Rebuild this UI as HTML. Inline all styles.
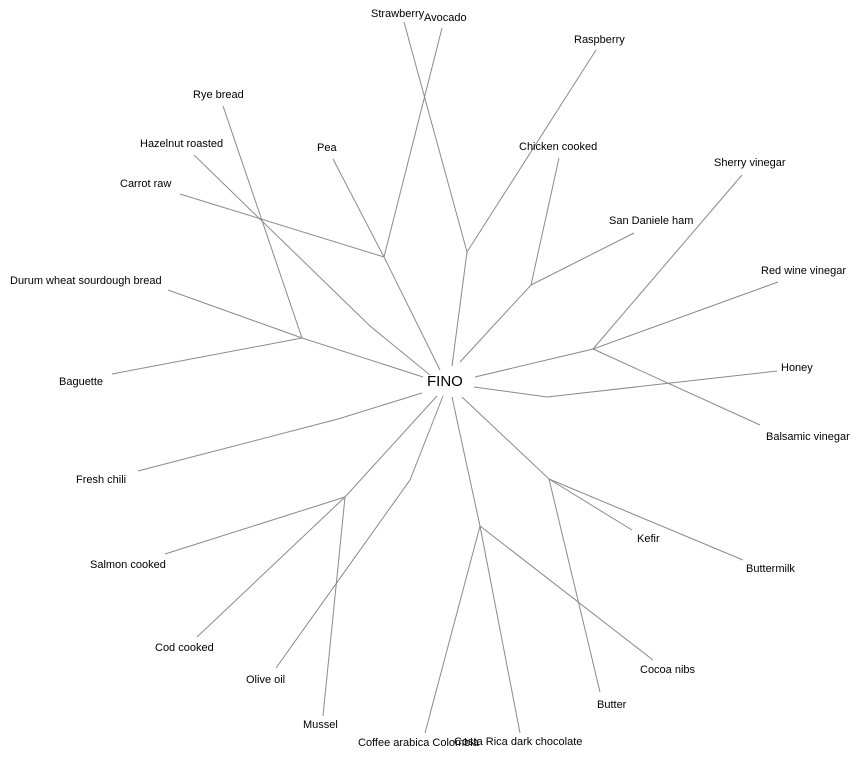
<!DOCTYPE html>
<html><head><style>body{margin:0;background:#fff}svg{display:block}text{font-family:"Liberation Sans",Arial,sans-serif;font-size:11px;fill:#000;dominant-baseline:middle}</style></head><body>
<svg width="864" height="757" viewBox="0 0 864 757">
<g stroke="#8a8a8a" stroke-width="1" fill="none">
<polyline points="404,22 467,252 452,366"/>
<polyline points="596,50 467,252"/>
<polyline points="442,28 384,257 440,370"/>
<polyline points="333,159 384,257"/>
<polyline points="180,194 384,257"/>
<polyline points="194,155 370,326 430,375"/>
<polyline points="223,106 302,338 423,377"/>
<polyline points="168,290 302,338"/>
<polyline points="112,374 302,338"/>
<polyline points="559,158 531,285 460,362"/>
<polyline points="634,233 531,285"/>
<polyline points="742,175 593,349 475,377"/>
<polyline points="778,282 593,349 760,425"/>
<polyline points="474,387 547,397 777,371"/>
<polyline points="422,393 338,419 138,471"/>
<polyline points="437,396 345,497 197,637"/>
<polyline points="165,554 345,497 323,716"/>
<polyline points="443,396 410,480 276,668"/>
<polyline points="452,397 480,526 425,733"/>
<polyline points="480,526 520,733"/>
<polyline points="480,526 653,660"/>
<polyline points="462,397 549,479 632,530"/>
<polyline points="549,479 743,560"/>
<polyline points="549,479 600,692"/>
</g>
<text x="371" y="14">Strawberry</text>
<text x="424" y="18">Avocado</text>
<text x="574" y="40">Raspberry</text>
<text x="193" y="95">Rye bread</text>
<text x="140" y="144">Hazelnut roasted</text>
<text x="317" y="148">Pea</text>
<text x="519" y="147">Chicken cooked</text>
<text x="714" y="163">Sherry vinegar</text>
<text x="120" y="184">Carrot raw</text>
<text x="609" y="221">San Daniele ham</text>
<text x="761" y="271">Red wine vinegar</text>
<text x="10" y="281">Durum wheat sourdough bread</text>
<text x="781" y="368">Honey</text>
<text x="59" y="382">Baguette</text>
<text x="427" y="382" style="font-size:15px">FINO</text>
<text x="766" y="437">Balsamic vinegar</text>
<text x="76" y="480">Fresh chili</text>
<text x="637" y="539">Kefir</text>
<text x="746" y="569">Buttermilk</text>
<text x="90" y="565">Salmon cooked</text>
<text x="155" y="648">Cod cooked</text>
<text x="640" y="670">Cocoa nibs</text>
<text x="246" y="680">Olive oil</text>
<text x="597" y="705">Butter</text>
<text x="303" y="725">Mussel</text>
<text x="358" y="743">Coffee arabica Colombia</text>
<text x="454" y="742">Costa Rica dark chocolate</text>
</svg>
</body></html>
